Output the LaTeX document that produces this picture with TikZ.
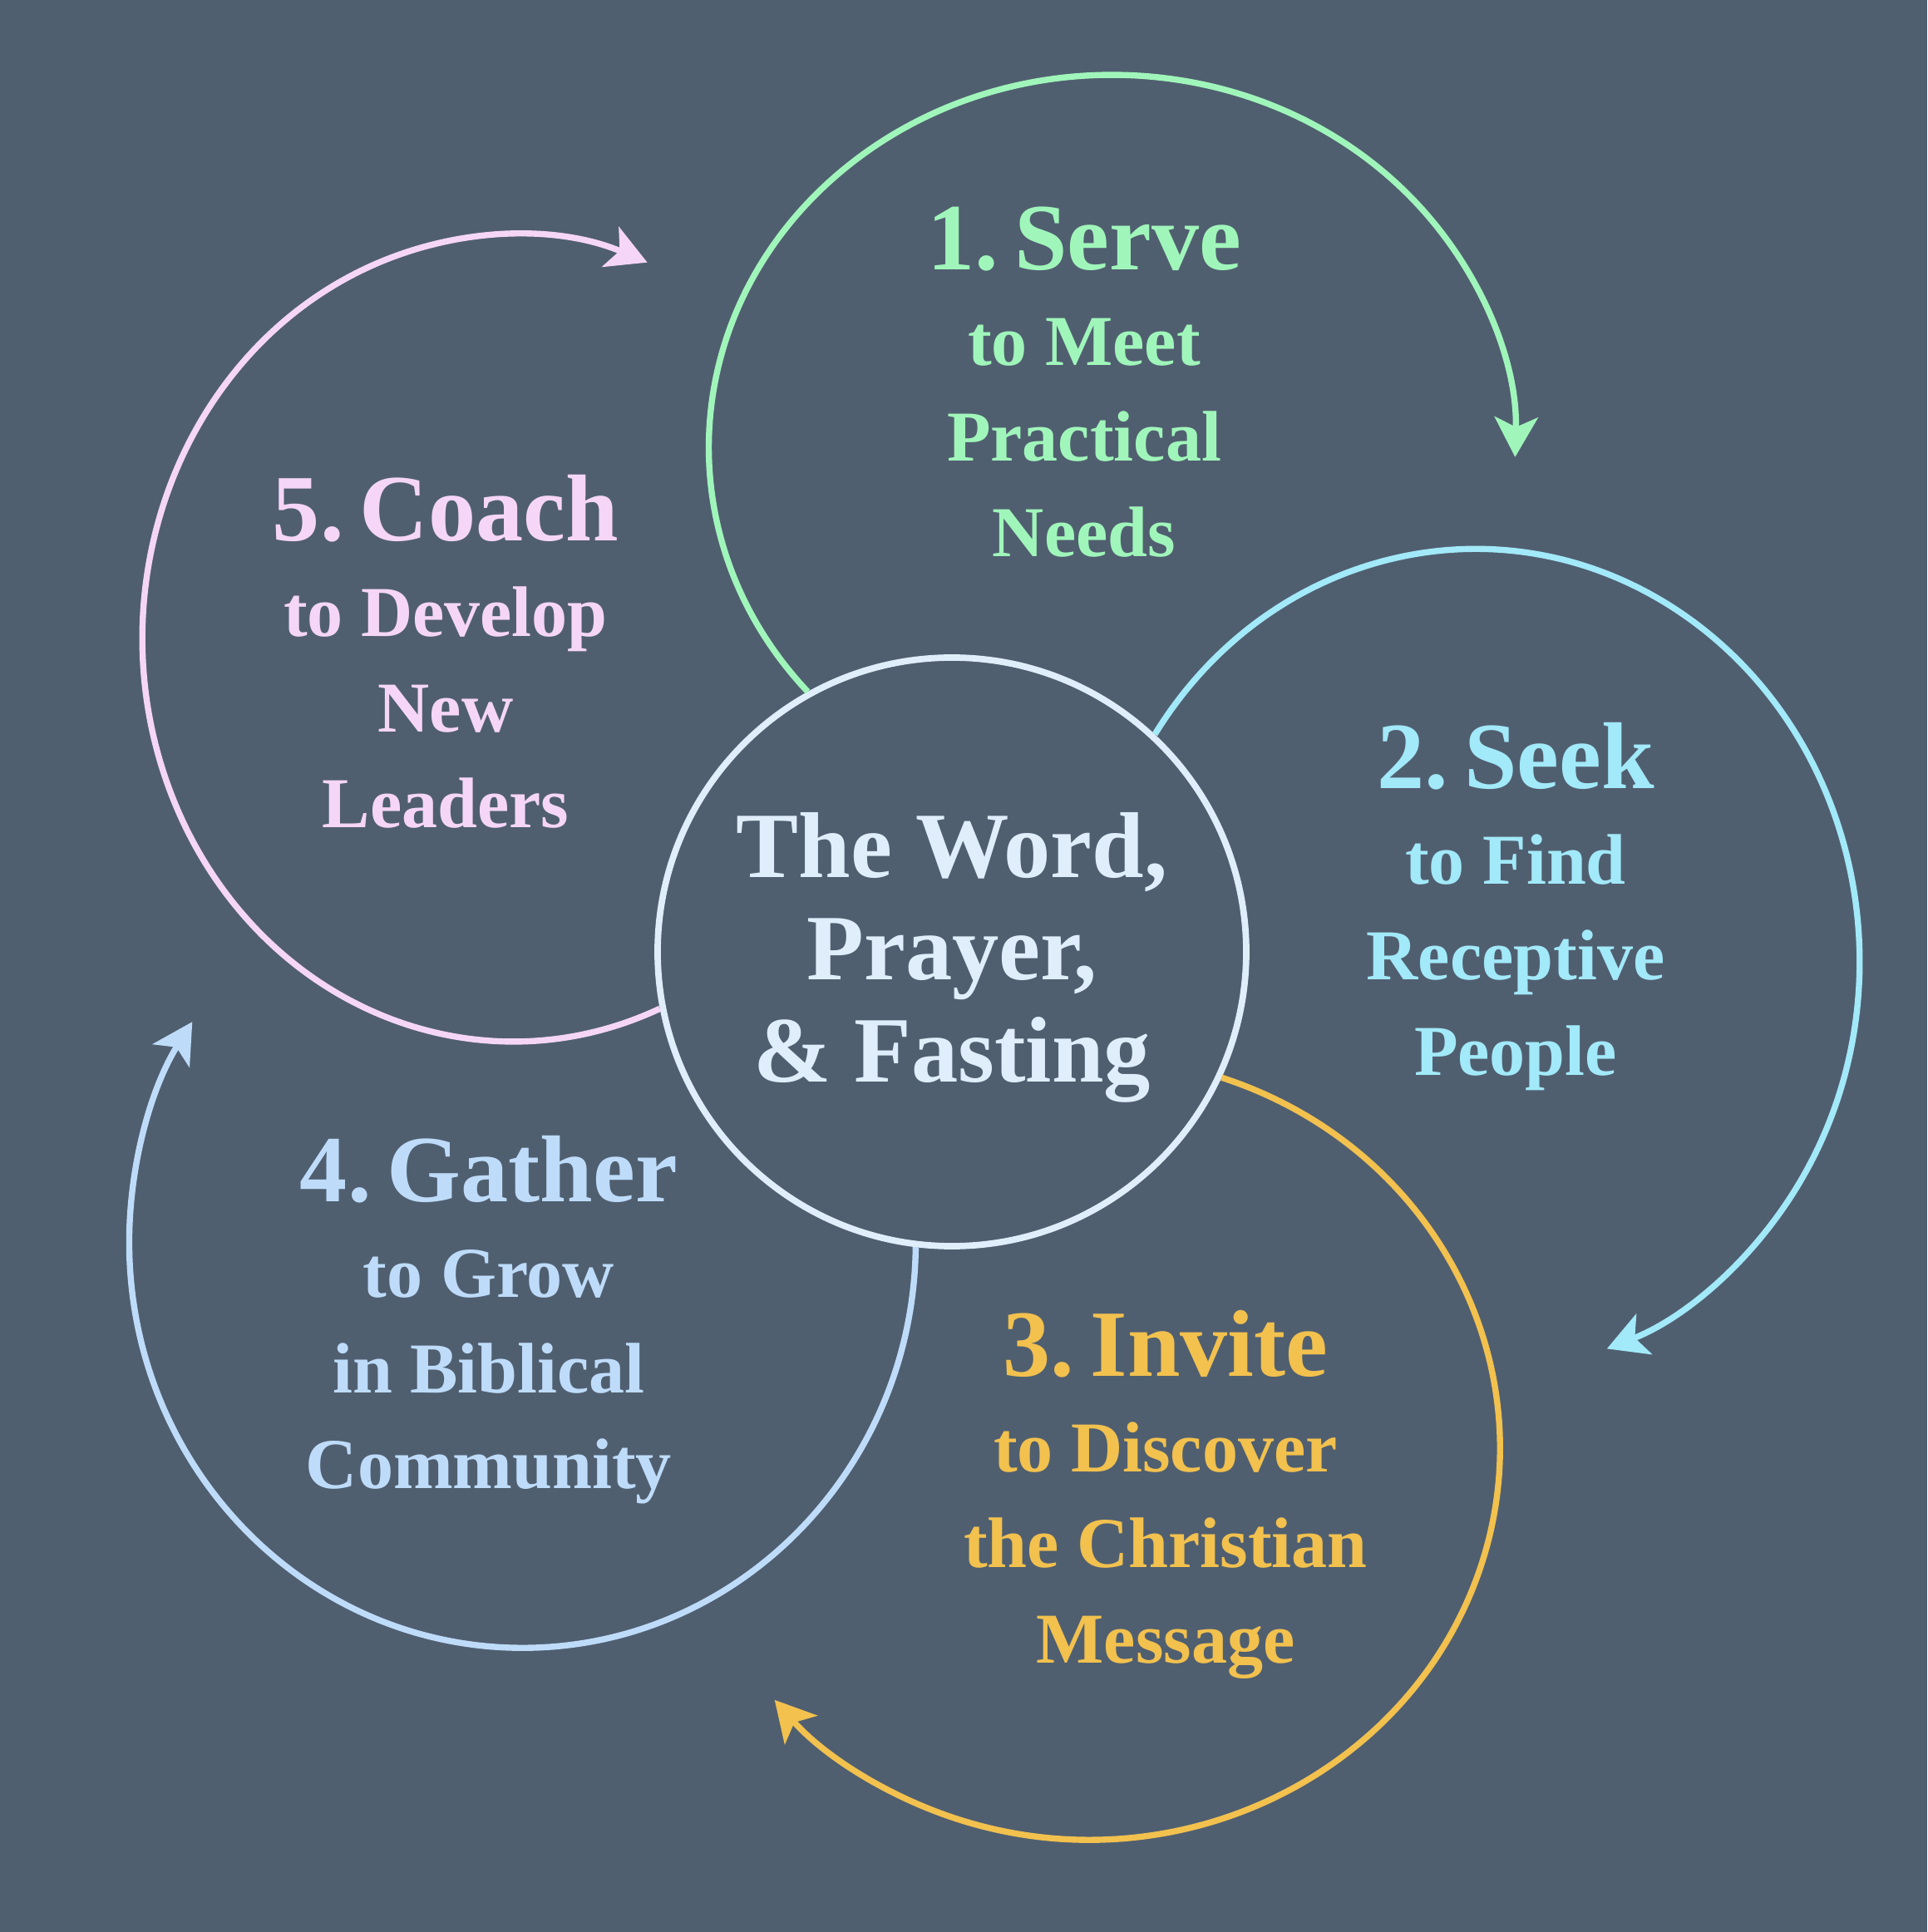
\documentclass[tikz,border=0pt]{standalone}
\usepackage{fontspec}
\setmainfont{Liberation Serif}
\usepackage{tikz}
\usepackage{xcolor}
\usetikzlibrary{arrows.meta}
\definecolor{slate}{HTML}{505F70}
\definecolor{serveclr}{HTML}{A0F6BA}
\definecolor{seekclr}{HTML}{A2E9F9}
\definecolor{inviteclr}{HTML}{F2C14E}
\definecolor{gatherclr}{HTML}{BEDCFA}
\definecolor{coachclr}{HTML}{F5D6F8}
\definecolor{hubclr}{HTML}{E0EEFB}
\newcommand{\stephead}[2]{{\fontsize{32.5}{32.5}\selectfont #1\hspace{0.17em}#2}}

\begin{document}
\begin{tikzpicture}[
  ring/.style={line width=2.1pt, ->},
  hub/.style={circle, draw=hubclr, line width=2.2pt, minimum size=7.08cm, inner sep=0pt},
  hubtext/.style={inner sep=0pt, text=hubclr, align=center, font=\fontsize{32}{35}\selectfont\bfseries},
  steptext/.style={anchor=north, inner sep=0pt, align=center, font=\fontsize{24.5}{32.7}\selectfont\bfseries},
  >={Stealth[length=0.48cm, width=0.52cm, inset=0.12cm]}
]
  \fill[slate] (-11.45,-11.79) rectangle (11.73,11.45);
  \useasboundingbox (-11.45,-11.79) rectangle (11.73,11.45);

  \node[hub] (core) at (0,0) {};
  \node[hubtext] (creed) at (0,-0.07) {The Word,\\ Prayer,\\ \& Fasting};

  % the five loops, each leaving the hub
  \draw[ring, serveclr] (core.119) arc[start angle=221, end angle=-1.5, x radius=4.85, y radius=4.48];
  \draw[ring, seekclr] (core.47.1) arc[start angle=146.6, end angle=-70, x radius=4.62, y radius=4.96];
  \draw[ring, inviteclr] (core.-25.3) arc[start angle=71.2, end angle=-140, x radius=4.94, y radius=4.71];
  \draw[ring, gatherclr] (core.-97.2) arc[start angle=-0.7, end angle=-212.9, x radius=4.73, y radius=4.88];
  \draw[ring, coachclr] (core.191) arc[start angle=293.3, end angle=68.8, x radius=4.46, y radius=4.85];

  \node[steptext, text=serveclr] (serve) at (1.59,8.97) {\stephead{1.}{Serve}\\ to Meet\\ Practical\\ Needs};
  \node[steptext, text=seekclr] (seek) at (6.78,2.76) {\stephead{2.}{Seek}\\ to Find\\ Receptive\\ People};
  \node[steptext, text=inviteclr] (invite) at (2.57,-4.31) {\stephead{3.}{Invite}\\ to Discover\\ the Christian\\ Message};
  \node[steptext, text=gatherclr] (gather) at (-5.57,-2.21) {\stephead{4.}{Gather}\\ to Grow\\ in Biblical\\ Community};
  \node[steptext, text=coachclr] (coach) at (-6.09,5.74) {\stephead{5.}{Coach}\\ to Develop\\ New\\ Leaders};
\end{tikzpicture}
\end{document}
